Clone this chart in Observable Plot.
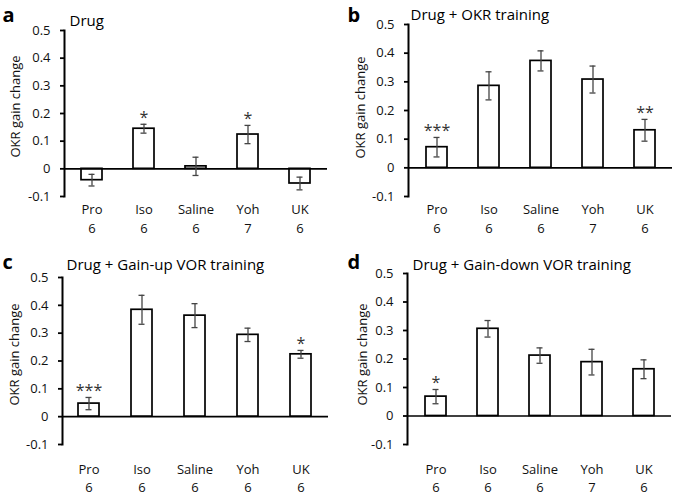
<!DOCTYPE html>
<html><head><meta charset="utf-8">
<script src="https://cdn.jsdelivr.net/npm/d3@7"></script>
<script src="https://cdn.jsdelivr.net/npm/@observablehq/plot@0.6"></script>
<style>
html,body{margin:0;padding:0;background:#fff;}
#wrap{position:relative;width:675px;height:496px;overflow:hidden;background:#fff;}
.panel{position:absolute;}
.panel svg{display:block;overflow:visible;}
</style></head><body><div id="wrap"></div>
<script>
// ---- data ----
const categories = ["Pro", "Iso", "Saline", "Yoh", "UK"];
const letters = ["a", "b", "c", "d"];
const titles = ["Drug", "Drug + OKR training", "Drug + Gain-up VOR training", "Drug + Gain-down VOR training"];
const yLabel = "OKR gain change";
const yTicks = [-0.1, 0, 0.1, 0.2, 0.3, 0.4, 0.5];

const meanA = [-0.041, 0.145, 0.009, 0.124, -0.053];
const semA  = [0.021, 0.016, 0.033, 0.033, 0.023];
const nA    = [6, 6, 6, 7, 6];
const starsA = ["", "*", "", "*", ""];

const meanB = [0.072, 0.286, 0.373, 0.308, 0.131];
const semB  = [0.034, 0.049, 0.035, 0.047, 0.038];
const nB    = [6, 6, 6, 7, 6];
const starsB = ["***", "", "", "", "**"];

const meanC = [0.047, 0.384, 0.363, 0.294, 0.224];
const semC  = [0.022, 0.052, 0.043, 0.024, 0.014];
const nC    = [6, 6, 6, 6, 6];
const starsC = ["***", "", "", "", "*"];

const meanD = [0.068, 0.306, 0.212, 0.189, 0.164];
const semD  = [0.025, 0.029, 0.027, 0.045, 0.033];
const nD    = [6, 6, 6, 7, 6];
const starsD = ["*", "", "", "", ""];

const means = [meanA, meanB, meanC, meanD];
const sems = [semA, semB, semC, semD];
const ns = [nA, nB, nC, nD];
const stars = [starsA, starsB, starsC, starsD];

// ---- layout (styles/positions) ----
const layouts = [
  {ox: 0,   oy: 0,   w: 337, h: 245, ml: 64, mr: 10, mt: 30, mb: 49, labDy: [13, 32], letter: [2, 21],  title: [69, 25], ylab: [15.5, 106]},
  {ox: 337, oy: 0,   w: 338, h: 245, ml: 71, mr: 3,  mt: 24, mb: 49, labDy: [13, 32], letter: [10, 21], title: [73, 19], ylab: [23.5, 107]},
  {ox: 0,   oy: 245, w: 337, h: 251, ml: 62, mr: 9,  mt: 32, mb: 52, labDy: [25, 43], letter: [2, 23],  title: [66, 24], ylab: [14.5, 109]},
  {ox: 337, oy: 245, w: 338, h: 251, ml: 70, mr: 4,  mt: 28, mb: 52, labDy: [25, 43], letter: [10, 23], title: [75, 24], ylab: [25, 109]}
];

const FONT = "'Open Sans', 'Noto Sans', sans-serif";
const wrap = document.getElementById("wrap");

layouts.forEach((L, i) => {
  const rows = categories.map((c, j) => ({
    cat: c, mean: means[i][j], sem: sems[i][j], n: ns[i][j], star: stars[i][j]
  }));
  const lo = d => d.mean - d.sem;
  const hi = d => d.mean + d.sem;
  const frameMidY = (L.mt + (L.h - L.mb)) / 2;
  const errStroke = "#444";

  const chart = Plot.plot({
    width: L.w, height: L.h,
    marginLeft: L.ml, marginRight: L.mr, marginTop: L.mt, marginBottom: L.mb,
    style: {fontFamily: FONT, fontSize: "13px", color: "#000", background: "transparent"},
    x: {domain: categories, paddingInner: 0.6, paddingOuter: 0.3, axis: null},
    y: {domain: [-0.1, 0.5], axis: null},
    marks: [
      Plot.barY(rows, {x: "cat", y1: 0, y2: "mean", fill: "white", stroke: "black", strokeWidth: 1.7}),
      Plot.ruleY([0], {stroke: "black", strokeWidth: 1.7}),
      Plot.frame({anchor: "left", stroke: "black", strokeWidth: 2}),
      Plot.axisY({ticks: yTicks, tickSize: 4, tickPadding: 10, strokeWidth: 1.8,
        tickFormat: d => String(d), fontSize: 13, fill: "#111", label: null}),
      Plot.ruleX(rows, {x: "cat", y1: lo, y2: hi, stroke: errStroke, strokeWidth: 1.3}),
      Plot.tickY(rows, {x: "cat", y: lo, insetLeft: 7.5, insetRight: 7.5, stroke: errStroke, strokeWidth: 1.3}),
      Plot.tickY(rows, {x: "cat", y: hi, insetLeft: 7.5, insetRight: 7.5, stroke: errStroke, strokeWidth: 1.3}),
      Plot.text(rows.filter(d => d.star), {x: "cat", y: hi, text: "star", dy: -1, lineAnchor: "bottom",
        fontSize: 16, fill: "#333"}),
      Plot.text(rows, {x: "cat", text: "cat", frameAnchor: "bottom", dy: L.labDy[0], lineAnchor: "middle",
        fontSize: 13, fill: "#111"}),
      Plot.text(rows, {x: "cat", text: d => String(d.n), frameAnchor: "bottom", dy: L.labDy[1], lineAnchor: "middle",
        fontSize: 13, fill: "#111"}),
      Plot.text([letters[i]], {text: d => d, frameAnchor: "top-left", dx: L.letter[0] - L.ml, dy: L.letter[1] - L.mt,
        textAnchor: "start", lineAnchor: "bottom", fontSize: 20, fontWeight: "bold", fill: "#000"}),
      Plot.text([titles[i]], {text: d => d, frameAnchor: "top-left", dx: L.title[0] - L.ml, dy: L.title[1] - L.mt,
        textAnchor: "start", lineAnchor: "bottom", fontSize: 15, fill: "#000"}),
      Plot.text([yLabel], {text: d => d, frameAnchor: "left", rotate: -90, dx: L.ylab[0] - L.ml, dy: L.ylab[1] - frameMidY,
        textAnchor: "middle", lineAnchor: "middle", fontSize: 13, fill: "#111"})
    ]
  });
  const div = document.createElement("div");
  div.className = "panel";
  div.style.left = L.ox + "px";
  div.style.top = L.oy + "px";
  div.appendChild(chart);
  wrap.appendChild(div);
});
</script></body></html>
